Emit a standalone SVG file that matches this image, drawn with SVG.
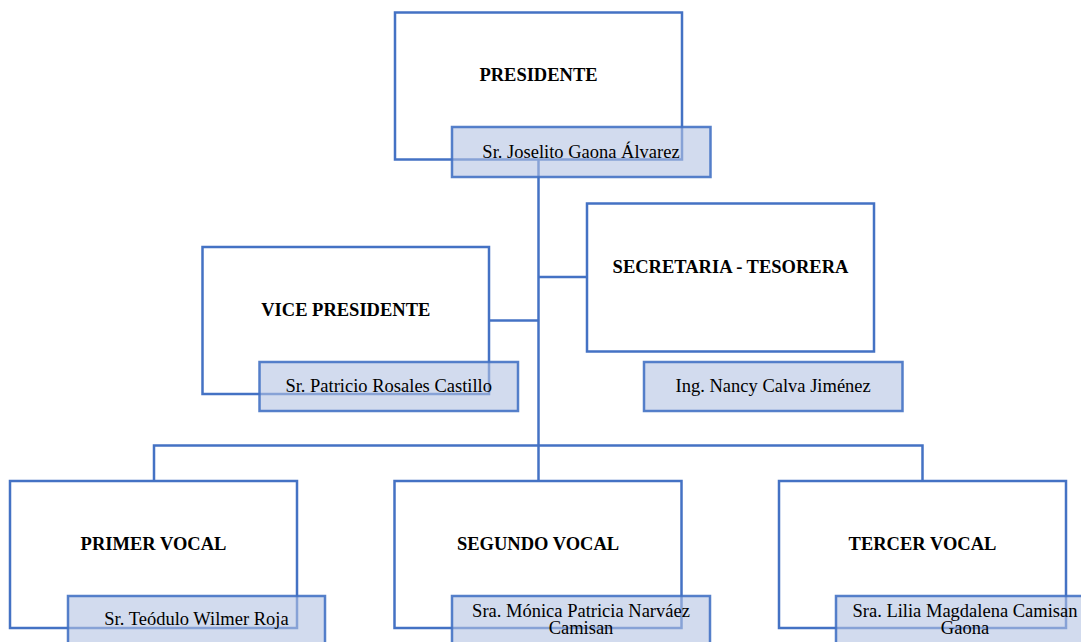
<svg xmlns="http://www.w3.org/2000/svg" width="1081" height="642" viewBox="0 0 1081 642">
<style>
.box{fill:#ffffff;stroke:#4472C4;stroke-width:2.5}
.name{fill:#B4C3E2;fill-opacity:0.6;stroke:#4472C4;stroke-opacity:0.9;stroke-width:2.5}
.conn{fill:none;stroke:#4472C4;stroke-width:2.5}
.t{font-family:"Liberation Serif","Times New Roman",serif;font-weight:bold;font-size:18.5px;fill:#000;text-anchor:middle}
.n{font-family:"Liberation Serif","Times New Roman",serif;font-size:18.5px;fill:#000;text-anchor:middle}
</style>
<rect width="1081" height="642" fill="#ffffff"/>
<g id="outer-boxes">
<rect class="box" x="395" y="12.5" width="287" height="147"/>
<rect class="box" x="202.5" y="247" width="286.5" height="147"/>
<rect class="box" x="587" y="203.5" width="287" height="148"/>
<rect class="box" x="10" y="481" width="287" height="147"/>
<rect class="box" x="394.5" y="481" width="287" height="147"/>
<rect class="box" x="779" y="481" width="287" height="147"/>
</g>
<g id="connectors">
<path class="conn" d="M538.5,160 V445.5"/>
<path class="conn" d="M489,320.5 H538.5"/>
<path class="conn" d="M538.5,277 H587"/>
<path class="conn" d="M154,481 V445.5 H922.5 V481"/>
<path class="conn" d="M538.5,445.5 V481"/>
</g>
<g id="presidente">
<text class="t" x="538.5" y="81">PRESIDENTE</text>
<rect class="name" x="452" y="127" width="258.5" height="50"/>
<text class="n" x="581" y="158">Sr. Joselito Gaona Álvarez</text>
</g>
<g id="vicepresidente">
<text class="t" x="345.8" y="316">VICE PRESIDENTE</text>
<rect class="name" x="259.5" y="362" width="258.5" height="49"/>
<text class="n" x="388.7" y="392">Sr. Patricio Rosales Castillo</text>
</g>
<g id="secretaria">
<text class="t" x="730.5" y="273">SECRETARIA - TESORERA</text>
<rect class="name" x="644" y="362" width="258.5" height="49"/>
<text class="n" x="773.2" y="392">Ing. Nancy Calva Jiménez</text>
</g>
<g id="primer-vocal">
<text class="t" x="153.5" y="549.5">PRIMER VOCAL</text>
<rect class="name" x="68" y="596" width="257" height="52"/>
<text class="n" x="196.5" y="625">Sr. Teódulo Wilmer Roja</text>
</g>
<g id="segundo-vocal">
<text class="t" x="538" y="549.5">SEGUNDO VOCAL</text>
<rect class="name" x="452" y="596" width="258" height="52"/>
<text class="n" x="581" y="616.5">Sra. Mónica Patricia Narváez</text>
<text class="n" x="581" y="634">Camisan</text>
</g>
<g id="tercer-vocal">
<text class="t" x="922.5" y="549.5">TERCER VOCAL</text>
<rect class="name" x="836" y="596" width="258" height="52"/>
<text class="n" x="965" y="616.5">Sra. Lilia Magdalena Camisan</text>
<text class="n" x="965" y="634">Gaona</text>
</g>
</svg>
